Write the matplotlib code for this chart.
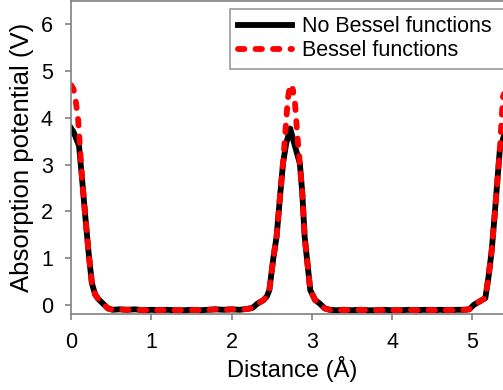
import matplotlib.pyplot as plt

plt.rcParams['font.family'] = ['Liberation Sans', 'DejaVu Sans']

# distance (Å) and potential (V)
x_nb = [0.00, 0.03, 0.06, 0.10, 0.14, 0.18, 0.22, 0.26, 0.30, 0.34, 0.40, 0.46, 0.52,
        0.60, 0.70, 0.80, 0.90, 1.00, 1.10, 1.20, 1.30, 1.40, 1.50, 1.60, 1.70, 1.80,
        1.90, 2.00, 2.10, 2.20, 2.26, 2.32, 2.40, 2.44, 2.47, 2.52, 2.56, 2.60, 2.64,
        2.68, 2.73, 2.78, 2.85, 2.88, 2.91, 2.95, 2.98, 3.04, 3.10, 3.16, 3.22,
        3.30, 3.40, 3.50, 3.60, 3.70, 3.80, 3.90, 4.00, 4.10, 4.20, 4.30, 4.40, 4.50,
        4.60, 4.70, 4.80, 4.90, 4.96, 5.02, 5.10, 5.16, 5.20, 5.24, 5.28, 5.34, 5.38, 5.42]
y_nb = [3.78, 3.70, 3.58, 3.40, 2.65, 1.85, 1.10, 0.46, 0.22, 0.12, 0.02, -0.08, -0.11,
        -0.10, -0.11, -0.10, -0.12, -0.11, -0.12, -0.11, -0.12, -0.12, -0.11, -0.12, -0.11, -0.10,
        -0.11, -0.10, -0.11, -0.09, -0.07, 0.02, 0.10, 0.18, 0.31, 1.00, 1.45, 2.25, 3.02,
        3.45, 3.77, 3.45, 3.02, 2.40, 1.45, 0.80, 0.31, 0.10, 0.02, -0.08, -0.11,
        -0.12, -0.11, -0.12, -0.11, -0.12, -0.12, -0.11, -0.12, -0.12, -0.11, -0.12, -0.11, -0.12,
        -0.11, -0.12, -0.11, -0.11, -0.10, 0.00, 0.08, 0.14, 0.60, 1.17, 2.00, 3.31, 3.55, 3.75]

x_b = [0.00, 0.03, 0.06, 0.09, 0.11, 0.14, 0.18, 0.22, 0.26, 0.30, 0.34, 0.40, 0.46, 0.52,
       0.60, 0.70, 0.80, 0.90, 1.00, 1.10, 1.20, 1.30, 1.40, 1.50, 1.60, 1.70, 1.80,
       1.90, 2.00, 2.10, 2.20, 2.26, 2.32, 2.40, 2.44, 2.47, 2.52, 2.56, 2.60, 2.64,
       2.67, 2.70, 2.72, 2.74, 2.76, 2.79, 2.82, 2.85, 2.88, 2.91, 2.95, 2.98, 3.04,
       3.10, 3.16, 3.22, 3.30, 3.40, 3.50, 3.60, 3.70, 3.80, 3.90, 4.00, 4.10, 4.20,
       4.30, 4.40, 4.50, 4.60, 4.70, 4.80, 4.90, 4.96, 5.02, 5.10, 5.16, 5.20, 5.24,
       5.28, 5.34, 5.38, 5.42]
y_b = [4.70, 4.62, 4.35, 3.94, 3.40, 2.65, 1.85, 1.10, 0.46, 0.22, 0.12, 0.02, -0.08, -0.11,
       -0.10, -0.11, -0.10, -0.12, -0.11, -0.12, -0.11, -0.12, -0.12, -0.11, -0.12, -0.11, -0.10,
       -0.11, -0.10, -0.11, -0.09, -0.07, 0.02, 0.10, 0.18, 0.31, 1.00, 1.45, 2.25, 3.02,
       3.70, 4.40, 4.62, 4.50, 4.62, 4.30, 3.60, 3.02, 2.40, 1.45, 0.80, 0.31, 0.10,
       0.02, -0.08, -0.11, -0.12, -0.11, -0.12, -0.11, -0.12, -0.12, -0.11, -0.12, -0.12, -0.11,
       -0.12, -0.11, -0.12, -0.11, -0.12, -0.11, -0.11, -0.10, 0.00, 0.08, 0.14, 0.60, 1.17,
       2.00, 3.31, 4.45, 4.65]

fig = plt.figure(figsize=(5.03, 3.90), dpi=100)
ax = fig.add_axes([71 / 503, 1 - 314 / 390, 1 - 71 / 503 + 0.02, 313 / 390])

ax.plot(x_nb, y_nb, color='black', lw=4.2, solid_joinstyle='round',
        label='No Bessel functions')
ax.plot(x_b, y_b, color='red', lw=4.2, dashes=(1.1, 1.9), dash_capstyle='round',
        dash_joinstyle='round', label='Bessel functions')

ax.set_xlim(0, 5.38 + 0.02 * 503 / 80.3)
ax.set_ylim(-0.2, 6.5)
ax.set_xticks([0, 1, 2, 3, 4, 5])
ax.set_yticks([0, 1, 2, 3, 4, 5, 6])

for s in ax.spines.values():
    s.set_color('#808080')
    s.set_linewidth(1.2)
ax.spines['right'].set_visible(False)
ax.tick_params(colors='#808080', labelcolor='black', labelsize=15.5, length=4,
               width=1.2, pad=9)

ax.set_xlabel('Distance (Å)', fontsize=17, labelpad=2)
ax.set_ylabel('Absorption potential (V)', fontsize=18.5, labelpad=5)

# legend box runs off the right edge, as in the source image
leg = fig.legend(loc='lower left', bbox_to_anchor=(230 / 503, 1 - 69 / 390, 0.6, 0.2),
                 mode='expand', fontsize=15.5, frameon=True, fancybox=False,
                 handlelength=2.55, handletextpad=0.45, labelspacing=0.15,
                 borderpad=0.35, borderaxespad=0)
leg.get_frame().set_edgecolor('#808080')
leg.get_frame().set_linewidth(1.2)

fig.savefig('out.png', dpi=100)
